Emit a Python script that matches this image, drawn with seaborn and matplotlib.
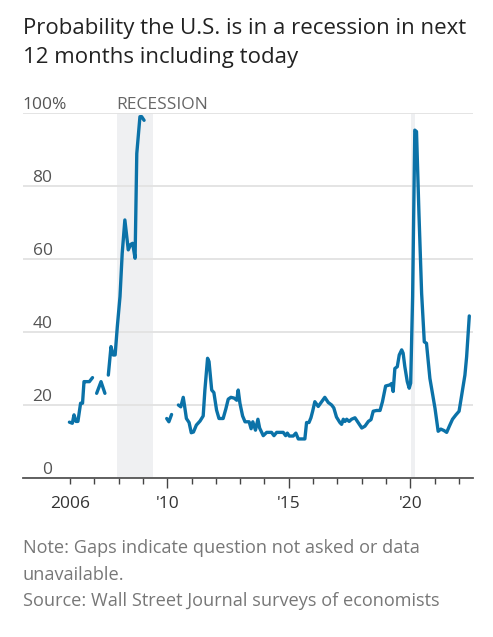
import numpy as np
import pandas as pd
import matplotlib
matplotlib.use('Agg')
import matplotlib.pyplot as plt
import matplotlib.transforms as mtransforms
import seaborn as sns

# Values (decimal year, % probability); split where the survey has gaps
seg1_year = [2005.98, 2006.10, 2006.17, 2006.25, 2006.33, 2006.44, 2006.52, 2006.58, 2006.67, 2006.80, 2006.93]
seg1_pct = [15.3, 15.0, 17.3, 15.5, 15.5, 20.5, 20.5, 26.4, 26.4, 26.4, 27.5]

seg2_year = [2007.10, 2007.28, 2007.44]
seg2_pct = [23.2, 26.4, 23.2]

seg3_year = [2007.58, 2007.69, 2007.78, 2007.86, 2007.95, 2008.06, 2008.15, 2008.26, 2008.40,
             2008.50, 2008.58, 2008.68, 2008.75, 2008.88, 2008.95, 2009.05]
seg3_pct = [28.2, 36.0, 33.7, 33.7, 41.5, 49.7, 61.5, 70.7, 62.5,
            64.0, 64.3, 60.2, 88.9, 99.0, 99.0, 98.0]

seg4_year = [2009.98, 2010.07, 2010.18]
seg4_pct = [16.3, 15.4, 17.4]

seg5_year = [2010.46, 2010.56, 2010.66, 2010.72, 2010.79, 2010.90, 2010.99, 2011.08, 2011.20, 2011.35,
             2011.48, 2011.55, 2011.66, 2011.72, 2011.83, 2011.92, 2012.03, 2012.13, 2012.30, 2012.41,
             2012.51, 2012.62, 2012.75, 2012.86, 2012.92, 2012.99, 2013.10, 2013.20, 2013.37, 2013.45,
             2013.52, 2013.63, 2013.73, 2013.80, 2013.95, 2014.09, 2014.29, 2014.39, 2014.50, 2014.77,
             2014.87, 2014.94, 2015.02, 2015.18, 2015.29, 2015.39, 2015.66, 2015.73, 2015.83, 2015.91,
             2015.98, 2016.07, 2016.21, 2016.35, 2016.48, 2016.62, 2016.76, 2016.85, 2016.96, 2017.10,
             2017.17, 2017.24, 2017.31, 2017.38, 2017.48, 2017.58, 2017.72, 2017.85, 2018.00, 2018.13,
             2018.27, 2018.38, 2018.47, 2018.61, 2018.75, 2018.85, 2018.98, 2019.15, 2019.23, 2019.29,
             2019.36, 2019.46, 2019.54, 2019.64, 2019.70, 2019.77, 2019.87, 2019.95, 2020.01, 2020.09,
             2020.18, 2020.25, 2020.35, 2020.46, 2020.57, 2020.66, 2020.80, 2021.01, 2021.14, 2021.25,
             2021.38, 2021.49, 2021.60, 2021.73, 2021.87, 2022.00, 2022.10, 2022.24, 2022.31, 2022.42]
seg5_pct = [20.0, 19.5, 22.1, 19.5, 16.3, 15.2, 12.4, 12.6, 14.5, 15.6,
            17.0, 24.1, 32.8, 31.9, 24.1, 23.4, 18.6, 16.3, 16.3, 18.9,
            21.6, 22.1, 21.9, 21.3, 24.1, 20.5, 17.0, 15.4, 15.4, 13.5,
            15.4, 13.1, 16.1, 13.7, 11.6, 12.5, 12.5, 11.6, 12.5, 12.5,
            11.6, 12.3, 11.5, 11.5, 12.3, 10.7, 10.7, 15.2, 15.2, 16.5,
            18.3, 20.9, 19.6, 20.9, 22.1, 20.7, 20.0, 19.2, 16.7, 15.2,
            14.7, 16.1, 15.5, 16.1, 15.5, 16.1, 16.5, 15.2, 13.7, 14.2,
            15.5, 16.0, 18.3, 18.5, 18.5, 20.9, 25.2, 25.5, 25.9, 23.7,
            30.0, 30.5, 33.7, 35.1, 34.2, 30.5, 26.4, 24.6, 26.0, 49.7,
            95.3, 94.9, 72.5, 50.6, 37.3, 36.9, 27.3, 19.1, 12.8, 13.4,
            13.0, 12.5, 14.2, 16.1, 17.3, 18.3, 22.4, 28.2, 33.2, 44.4]

recession_start = [2007.92, 2020.02]
recession_end = [2009.40, 2020.18]

y_ticks = [0, 20, 40, 60, 80, 100]
x_major = [2006, 2010, 2015, 2020]
x_major_labels = ['2006', "'10", "'15", "'20"]

segments = [(seg1_year, seg1_pct), (seg2_year, seg2_pct), (seg3_year, seg3_pct),
            (seg4_year, seg4_pct), (seg5_year, seg5_pct)]
df = pd.concat([pd.DataFrame({'year': yr, 'pct': pc, 'seg': i})
                for i, (yr, pc) in enumerate(segments)], ignore_index=True)

sns.set_theme(style='white')
plt.rcParams['font.family'] = ['Open Sans', 'DejaVu Sans']

W, H = 493, 637
fig = plt.figure(figsize=(W / 100, H / 100), dpi=100)
ax = fig.add_axes([22.7 / W, 1 - 478 / H, 450 / W, (478 - 113) / H])

for s, e in zip(recession_start, recession_end):
    ax.axvspan(s, e, color='#eff0f2', lw=0, zorder=0)

sns.lineplot(data=df, x='year', y='pct', units='seg', estimator=None, ax=ax,
             color='#0b72a8', linewidth=2.4, legend=False, clip_on=False)
for ln in ax.lines:
    ln.set_solid_joinstyle('round')

ax.set_xlim(2004.06, 2022.56)
ax.set_ylim(0, 100)
ax.set_xlabel('')
ax.set_ylabel('')

ax.set_yticks(y_ticks)
ax.yaxis.grid(True, color='#e2e2e2', lw=1.3)
ax.set_axisbelow(True)
ax.tick_params(axis='y', length=0, labelleft=False)

ax.set_xticks(x_major, labels=x_major_labels)
ax.set_xticks(range(2006, 2023), minor=True)
ax.tick_params(axis='x', which='major', length=7, width=1, color='#444', labelsize=12.5,
               labelcolor='#333', pad=6, direction='out', bottom=True)
ax.tick_params(axis='x', which='minor', length=4, width=1, color='#444', direction='out', bottom=True)
ax.xaxis.get_major_ticks()[0].tick1line.set_markersize(4)

for side in ['left', 'top', 'right']:
    ax.spines[side].set_visible(False)
ax.spines['bottom'].set_color('#555')
ax.spines['bottom'].set_linewidth(1.3)

# y labels sit just above their gridlines
lab_tr = mtransforms.offset_copy(ax.get_yaxis_transform(), fig=fig, x=0, y=4, units='dots')
for v in y_ticks:
    if v == 100:
        ax.text(0.0, v, '100%', transform=lab_tr, ha='left', va='baseline', fontsize=12.5, color='#555')
    else:
        ax.text((52.5 - 22.7) / 450, v, str(v), transform=lab_tr, ha='right', va='baseline',
                fontsize=12.5, color='#555')

rec_tr = mtransforms.offset_copy(ax.get_xaxis_transform(), fig=fig, x=0, y=4, units='dots')
ax.text(recession_start[0], 1.0, 'RECESSION', transform=rec_tr, ha='left', va='baseline',
        fontsize=12.5, color='#666')

fig.text(23 / W, 1 - 34.3 / H, 'Probability the U.S. is in a recession in next',
         fontsize=16, color='#222', ha='left', va='baseline')
fig.text(23 / W, 1 - 63.3 / H, '12 months including today',
         fontsize=16, color='#222', ha='left', va='baseline')

notes = ['Note: Gaps indicate question not asked or data', 'unavailable.',
         'Source: Wall Street Journal surveys of economists']
for txt, yb in zip(notes, [553.3, 580, 606]):
    fig.text(23 / W, 1 - yb / H, txt, fontsize=13.1, color='#777', ha='left', va='baseline')

fig.savefig('out.png', dpi=100)
